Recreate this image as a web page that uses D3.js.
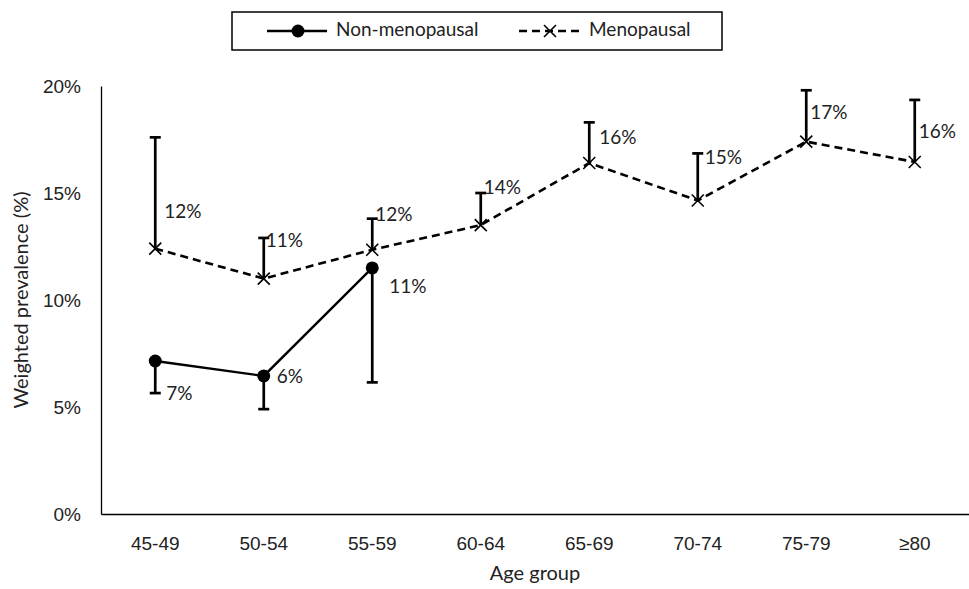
<!DOCTYPE html>
<html>
<head>
<meta charset="utf-8">
<script src="https://cdn.jsdelivr.net/npm/d3@7/dist/d3.min.js"></script>
<style>
  html, body { margin: 0; padding: 0; background: #fff; }
  svg { display: block; font-family: Lato, "Open Sans", "Liberation Sans", sans-serif; }
</style>
</head>
<body>
<svg id="chart" width="969" height="589"></svg>
<script>
// Age groups on the x axis
const ageGroups = ["45-49", "50-54", "55-59", "60-64", "65-69", "70-74", "75-79", "≥80"];

// Menopausal women: weighted prevalence (%) and upper bound of the interval
const menoValues = [12.4, 11.0, 12.35, 13.5, 16.4, 14.65, 17.4, 16.45];
const menoUpper  = [17.6, 12.9, 13.8, 15.0, 18.3, 16.85, 19.8, 19.35];

// Non-menopausal women (only the youngest three groups)
const nonMenoValues = [7.15, 6.45, 11.5];
const nonMenoLower  = [5.65, 4.9, 6.15];

// Rounded labels printed next to the points
const menoLabels    = ["12%", "11%", "12%", "14%", "16%", "15%", "17%", "16%"];
const nonMenoLabels = ["7%", "6%", "11%"];

const yTicks = [0, 5, 10, 15, 20];

// Label placement relative to each point (left edge, vertical centre), in px
const menoLabelShift    = [[9, -35], [2, -36], [3, -34], [3, -36], [10, -24], [7, -41], [4, -27], [4, -29]];
const nonMenoLabelShift = [[11, 34], [13, 2], [17, 20]];

const FS = 19;      // tick, value and legend text
const FS_TITLE = 20; // axis titles
const TXT = "#222";

const svg = d3.select("#chart");
const margin = { left: 101, right: 0, top: 86, bottom: 75 };
const W = 969, H = 589;

const x = d3.scaleBand().domain(ageGroups).range([margin.left, W - margin.right]);
const y = d3.scaleLinear().domain([0, 20]).range([H - margin.bottom, margin.top]);
const cx = g => x(g) + x.bandwidth() / 2;

// Axes
const yAxis = d3.axisLeft(y).tickValues(yTicks).tickSize(0).tickPadding(20).tickFormat(d => d + "%");
const gy = svg.append("g").attr("transform", `translate(${margin.left},0)`).call(yAxis);
gy.select(".domain").attr("stroke", "#000").attr("stroke-width", 1.3);
gy.selectAll("text").attr("font-size", FS).attr("fill", TXT).attr("font-family", null);

const xAxis = d3.axisBottom(x).tickSize(0);
const gx = svg.append("g").attr("transform", `translate(0,${y(0)})`).call(xAxis);
gx.select(".domain").attr("stroke", "#000").attr("stroke-width", 1.3);
gx.selectAll("text").attr("font-size", FS).attr("fill", TXT).attr("font-family", null)
  .attr("y", 29).attr("dy", "0.36em");

// Axis titles
svg.append("text")
  .attr("transform", `translate(23,${(y(0) + y(20)) / 2}) rotate(-90)`)
  .attr("text-anchor", "middle").attr("dominant-baseline", "middle")
  .attr("font-size", FS_TITLE).attr("fill", TXT)
  .text("Weighted prevalence (%)");
svg.append("text")
  .attr("x", (margin.left + W) / 2).attr("y", 575)
  .attr("text-anchor", "middle").attr("dominant-baseline", "middle")
  .attr("font-size", FS_TITLE).attr("fill", TXT)
  .text("Age group");

const line = d3.line().x(d => cx(d.g)).y(d => y(d.v));

const meno = ageGroups.map((g, i) => ({ g, v: menoValues[i], hi: menoUpper[i], label: menoLabels[i], s: menoLabelShift[i] }));
const nonMeno = nonMenoValues.map((v, i) => ({ g: ageGroups[i], v, lo: nonMenoLower[i], label: nonMenoLabels[i], s: nonMenoLabelShift[i] }));

// Error bars (one-sided)
function errBar(sel, data, key) {
  const gE = sel.append("g").attr("stroke", "#000").attr("stroke-width", 2.7);
  gE.selectAll("line.v").data(data).join("line")
    .attr("x1", d => cx(d.g)).attr("x2", d => cx(d.g))
    .attr("y1", d => y(d.v)).attr("y2", d => y(d[key]));
  gE.selectAll("line.c").data(data).join("line")
    .attr("x1", d => cx(d.g) - 5.5).attr("x2", d => cx(d.g) + 5.5)
    .attr("y1", d => y(d[key])).attr("y2", d => y(d[key]));
}
errBar(svg, meno, "hi");
errBar(svg, nonMeno, "lo");

// Menopausal dashed line with × markers
svg.append("path").datum(meno).attr("d", line)
  .attr("fill", "none").attr("stroke", "#000").attr("stroke-width", 2.6)
  .attr("stroke-dasharray", "8,5");
const cross = (sel, px, py, r) => {
  sel.append("path")
    .attr("d", `M${px - r},${py - r}L${px + r},${py + r}M${px - r},${py + r}L${px + r},${py - r}`)
    .attr("stroke", "#000").attr("stroke-width", 1.6).attr("fill", "none");
};
meno.forEach(d => cross(svg, cx(d.g), y(d.v), 6));

// Non-menopausal solid line with filled circles
svg.append("path").datum(nonMeno).attr("d", line)
  .attr("fill", "none").attr("stroke", "#000").attr("stroke-width", 2.4);
svg.selectAll("circle.nm").data(nonMeno).join("circle")
  .attr("cx", d => cx(d.g)).attr("cy", d => y(d.v)).attr("r", 6.5).attr("fill", "#000");

// Value labels
const labelG = svg.append("g").attr("font-size", FS).attr("fill", TXT);
labelG.selectAll("text.m").data(meno).join("text")
  .attr("x", d => cx(d.g) + d.s[0]).attr("y", d => y(d.v) + d.s[1])
  .attr("dominant-baseline", "middle").text(d => d.label);
labelG.selectAll("text.n").data(nonMeno).join("text")
  .attr("x", d => cx(d.g) + d.s[0]).attr("y", d => y(d.v) + d.s[1])
  .attr("dominant-baseline", "middle").text(d => d.label);

// Legend
const lg = svg.append("g");
lg.append("rect").attr("x", 232).attr("y", 12).attr("width", 490).attr("height", 38)
  .attr("fill", "#fff").attr("stroke", "#000").attr("stroke-width", 1.5);
lg.append("line").attr("x1", 267).attr("x2", 327).attr("y1", 31).attr("y2", 31)
  .attr("stroke", "#000").attr("stroke-width", 2.5);
lg.append("circle").attr("cx", 298).attr("cy", 31).attr("r", 6.5).attr("fill", "#000");
lg.append("text").attr("x", 336).attr("y", 31).attr("dominant-baseline", "middle")
  .attr("font-size", FS).attr("fill", TXT).text("Non-menopausal");
lg.append("line").attr("x1", 519).attr("x2", 582).attr("y1", 31).attr("y2", 31)
  .attr("stroke", "#000").attr("stroke-width", 2.5).attr("stroke-dasharray", "8,5");
cross(lg, 550, 31, 6);
lg.append("text").attr("x", 589).attr("y", 31).attr("dominant-baseline", "middle")
  .attr("font-size", FS).attr("fill", TXT).text("Menopausal");
</script>
</body>
</html>
